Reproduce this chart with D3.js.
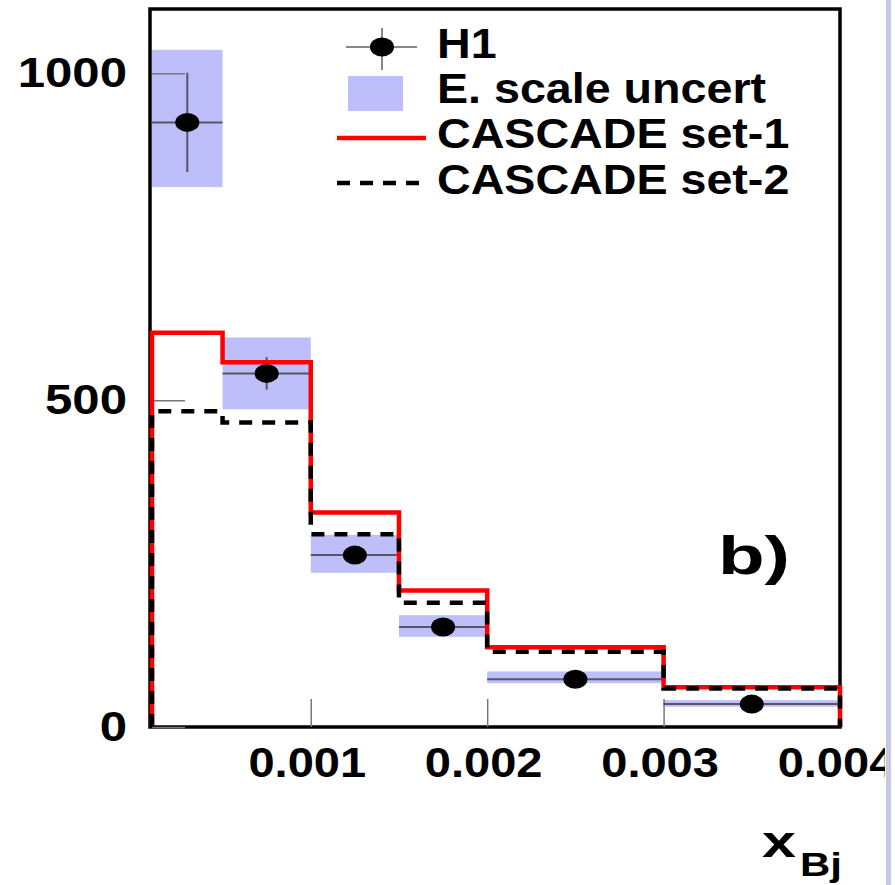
<!DOCTYPE html>
<html><head><meta charset="utf-8">
<script src="https://cdn.jsdelivr.net/npm/d3@7"></script>
<style>html,body{margin:0;padding:0;background:#fff;} svg{display:block;}</style>
</head><body>
<svg id="chart" width="895" height="885"></svg>
<script>
// x_Bj bin edges and per-bin contents
const binEdges = [0.0001, 0.0005, 0.001, 0.0015, 0.002, 0.003, 0.004];
const h1Values = [925, 541, 263, 153, 73, 35];
const h1Errors = [76, 25, 12, 8, 5, 4];
const escaleLow = [826, 486, 236, 138, 67, 31];
const escaleHigh = [1036, 596, 294, 171, 85, 41];
const cascadeSet1 = [603, 558, 328, 209, 122, 61];
const cascadeSet2 = [483, 466, 295, 190, 115, 59];
const xTickValues = [0.001, 0.002, 0.003, 0.004];
const yTickValues = [0, 500, 1000];
const legendLabels = ["H1", "E. scale uncert", "CASCADE set-1", "CASCADE set-2"];

const FONT = "'Liberation Sans', Arial, Helvetica, sans-serif";
const svg = d3.select("#chart");
const x = d3.scaleLinear().domain([0.0001, 0.004]).range([152, 840]);
const y = d3.scaleLinear().domain([0, 1100]).range([727, 8]);

const bins = h1Values.map((v, i) => ({
  lo: binEdges[i], hi: binEdges[i + 1], mid: (binEdges[i] + binEdges[i + 1]) / 2,
  v, err: h1Errors[i], sLo: escaleLow[i], sHi: escaleHigh[i]
}));

// widen bold text horizontally by factor k
function stretch(sel, k) {
  sel.each(function () {
    const w = this.getComputedTextLength();
    d3.select(this).attr("textLength", w * k).attr("lengthAdjust", "spacingAndGlyphs");
  });
}

// plot frame
const [x0, x1] = x.range();
const [yb, yt] = y.range();
svg.append("path")
  .attr("d", `M${x0 - 2},${yt + 1}H${x1}V${yb}H${x0 - 2}Z`)
  .attr("fill", "none").attr("stroke", "#000").attr("stroke-width", 3.5);

// energy-scale uncertainty bands
svg.append("g").selectAll("rect").data(bins).join("rect")
  .attr("x", d => x(d.lo)).attr("width", d => x(d.hi) - x(d.lo))
  .attr("y", d => y(d.sHi)).attr("height", d => y(d.sLo) - y(d.sHi))
  .attr("fill", "#bebefa");

// axes with inward ticks
const gx = svg.append("g").attr("transform", `translate(0,${y(0)})`)
  .call(d3.axisBottom(x).tickValues(xTickValues).tickSize(-28).tickPadding(20).tickFormat(d3.format(".3f")));
gx.select(".domain").remove();
gx.selectAll(".tick line").attr("stroke", "#777").attr("stroke-width", 1.5);
gx.selectAll(".tick text").attr("font-family", FONT).attr("font-weight", "bold")
  .attr("font-size", 42).attr("fill", "#000").attr("dx", -4);
stretch(gx.selectAll(".tick text"), 1.12);

const gy = svg.append("g").attr("transform", `translate(${x0},0)`)
  .call(d3.axisLeft(y).tickValues(yTickValues).tickSize(-33).tickPadding(25).tickFormat(d3.format("d")));
gy.select(".domain").remove();
gy.selectAll(".tick line").attr("stroke", "#777").attr("stroke-width", 1.5);
gy.selectAll(".tick text").attr("font-family", FONT).attr("font-weight", "bold")
  .attr("font-size", 42).attr("fill", "#000");
stretch(gy.selectAll(".tick text"), 1.17);

// H1 data: bin-width and statistical error bars
const gData = svg.append("g").attr("stroke", "#333").attr("stroke-opacity", 0.75).attr("stroke-width", 2);
gData.selectAll("line.h").data(bins).join("line").attr("class", "h")
  .attr("x1", d => x(d.lo)).attr("x2", d => x(d.hi)).attr("y1", d => y(d.v)).attr("y2", d => y(d.v));
gData.selectAll("line.v").data(bins).join("line").attr("class", "v")
  .attr("x1", d => x(d.mid)).attr("x2", d => x(d.mid)).attr("y1", d => y(d.v - d.err)).attr("y2", d => y(d.v + d.err));
svg.append("g").selectAll("ellipse").data(bins).join("ellipse")
  .attr("cx", d => x(d.mid)).attr("cy", d => y(d.v)).attr("rx", 12).attr("ry", 9.5).attr("fill", "#000");

// CASCADE predictions as closed step histograms
function stepPoints(vals) {
  const last = binEdges.length - 1;
  const pts = [[binEdges[0], 0]];
  vals.forEach((v, i) => pts.push([binEdges[i], v]));
  pts.push([binEdges[last], vals[vals.length - 1]]);
  pts.push([binEdges[last], 0]);
  return pts;
}
const step = d3.line().x(d => x(d[0])).y(d => y(d[1])).curve(d3.curveStepAfter);
svg.append("path").attr("d", step(stepPoints(cascadeSet1)))
  .attr("fill", "none").attr("stroke", "#ff0000").attr("stroke-width", 4.5);
svg.append("path").attr("d", step(stepPoints(cascadeSet2)))
  .attr("fill", "none").attr("stroke", "#000").attr("stroke-width", 4.5).attr("stroke-dasharray", "13,10");

// legend
const lg = svg.append("g");
lg.append("line").attr("x1", 346).attr("x2", 417).attr("y1", 47).attr("y2", 47).attr("stroke", "#888").attr("stroke-width", 2);
lg.append("line").attr("x1", 382).attr("x2", 382).attr("y1", 28).attr("y2", 70).attr("stroke", "#888").attr("stroke-width", 2);
lg.append("ellipse").attr("cx", 382).attr("cy", 47).attr("rx", 12).attr("ry", 9.5).attr("fill", "#000");
lg.append("rect").attr("x", 348).attr("y", 76).attr("width", 55).attr("height", 35).attr("fill", "#bebefa");
lg.append("line").attr("x1", 337).attr("x2", 426).attr("y1", 138).attr("y2", 138).attr("stroke", "#ff0000").attr("stroke-width", 4.5);
lg.append("line").attr("x1", 337).attr("x2", 424).attr("y1", 183).attr("y2", 183).attr("stroke", "#000").attr("stroke-width", 4.5).attr("stroke-dasharray", "13,10");
const lgText = lg.selectAll("text").data(legendLabels).join("text")
  .attr("x", 437).attr("y", (d, i) => [58, 103, 148, 194][i])
  .attr("font-family", FONT).attr("font-weight", "bold").attr("font-size", 42).attr("fill", "#000")
  .text(d => d);
stretch(lgText, 1.11);

// panel tag
svg.append("text").attr("x", 718).attr("y", 574)
  .attr("font-family", FONT).attr("font-weight", "bold").attr("font-size", 54).attr("fill", "#000")
  .attr("textLength", 72).attr("lengthAdjust", "spacingAndGlyphs").text("b)");

// x-axis title x_Bj
svg.append("text").attr("x", 762).attr("y", 857)
  .attr("font-family", FONT).attr("font-weight", "bold").attr("font-size", 44)
  .attr("textLength", 34).attr("lengthAdjust", "spacingAndGlyphs").text("x");
svg.append("text").attr("x", 800).attr("y", 876)
  .attr("font-family", FONT).attr("font-weight", "bold").attr("font-size", 34)
  .attr("textLength", 42).attr("lengthAdjust", "spacingAndGlyphs").text("Bj");

// right page edge
svg.append("rect").attr("x", 885).attr("y", 0).attr("width", 10).attr("height", 885).attr("fill", "#fff");
svg.append("rect").attr("x", 886).attr("y", 0).attr("width", 5).attr("height", 885).attr("fill", "#c8c8e2");
</script>
</body></html>
